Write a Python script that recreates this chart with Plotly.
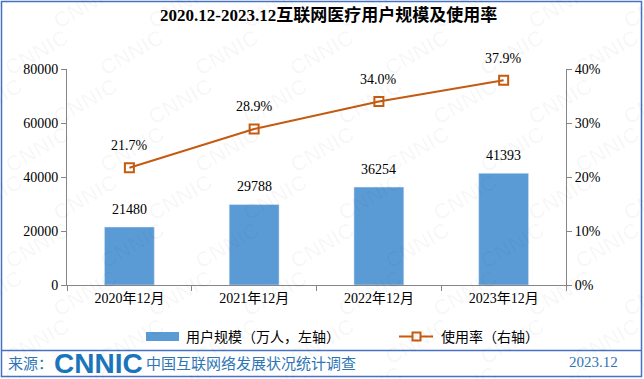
import plotly.graph_objects as go

categories = ["2020年12月", "2021年12月", "2022年12月", "2023年12月"]
users = [21480, 29788, 36254, 41393]
rates = [0.217, 0.289, 0.340, 0.379]
rate_labels = ["21.7%", "28.9%", "34.0%", "37.9%"]
left_ticks = [0, 20000, 40000, 60000, 80000]
right_ticks = [0, 0.1, 0.2, 0.3, 0.4]
right_tick_text = ["0%", "10%", "20%", "30%", "40%"]

BAR = "#5B9BD5"
LINE = "#C55A11"
BORDER = "#4472C4"
FOOT = "#2E75B6"
SERIF = "Times New Roman, Liberation Serif, Noto Sans CJK SC"
SANS = "Noto Sans CJK SC, Noto Sans"

fig = go.Figure()
fig.add_trace(go.Bar(x=categories, y=users, marker_color=BAR, name="用户规模（万人，左轴）",
                     showlegend=False, yaxis="y"))
fig.add_trace(go.Scatter(x=categories, y=rates, mode="lines+markers", name="使用率（右轴）",
                         line=dict(color=LINE, width=2),
                         marker=dict(symbol="square-open", size=9, color=LINE, line=dict(width=2)),
                         showlegend=False, yaxis="y2"))

def px(xp, yp):
    return (xp - 67) / 499, (285 - yp) / 216

def note(xp, yp, text, font, xanchor="center"):
    x, y = px(xp, yp)
    return dict(xref="paper", yref="paper", x=x, y=y, xanchor=xanchor, yanchor="middle",
                text=text, showarrow=False, font=font)

ann = []
# watermark
for r in range(9):
    for c in range(9):
        x = c * 95 + (47 if r % 2 else 0) - 10
        y = r * 48 + 5
        a = note(x, y, "<b>CNNIC</b>", dict(family="Liberation Sans", size=22, color="rgba(0,0,0,0.028)"))
        a["textangle"] = -30
        ann.append(a)
for c, v in zip(categories, users):
    ann.append(dict(x=c, y=v, yref="y", text=str(v), showarrow=False, yshift=18,
                    font=dict(family=SERIF, size=14, color="#000")))
for c, v, t in zip(categories, rates, rate_labels):
    ann.append(dict(x=c, y=v, yref="y2", text=t, showarrow=False, yshift=22,
                    font=dict(family=SERIF, size=14, color="#000")))

ann.append(note(328, 15, "<b>2020.12-2023.12互联网医疗用户规模及使用率</b>",
                dict(family=SERIF, size=17, color="#000")))
ann.append(note(184, 336, "用户规模（万人，左轴）", dict(family=SANS, size=14, color="#000"), "left"))
ann.append(note(439, 336, "使用率（右轴）", dict(family=SANS, size=14, color="#000"), "left"))
ann.append(note(6, 362, "来源：", dict(family=SANS, size=15, color=FOOT), "left"))
ann.append(note(98, 363, "<b>CNNIC</b>", dict(family="Liberation Sans", size=28, color="#1B75BB")))
ann.append(note(144, 362, "中国互联网络发展状况统计调查", dict(family=SANS, size=15, color=FOOT), "left"))
ann.append(note(593, 362, "2023.12", dict(family=SERIF, size=15, color=FOOT)))

shapes = []
def rect_px(x0, y0, x1, y1, **kw):
    a0, b0 = px(x0, y0)
    a1, b1 = px(x1, y1)
    return dict(type="rect", xref="paper", yref="paper", x0=a0, y0=b0, x1=a1, y1=b1, **kw)
def line_px(x0, y0, x1, y1, **kw):
    a0, b0 = px(x0, y0)
    a1, b1 = px(x1, y1)
    return dict(type="line", xref="paper", yref="paper", x0=a0, y0=b0, x1=a1, y1=b1, **kw)

shapes.append(rect_px(1.5, 1.5, 641.5, 376.5, line=dict(color=BORDER, width=1.5), layer="above"))
shapes.append(line_px(1.5, 350.5, 641.5, 350.5, line=dict(color=BORDER, width=1.5)))
shapes.append(rect_px(146, 332, 179, 341, fillcolor=BAR, line=dict(width=0)))
shapes.append(line_px(399, 336.5, 433, 336.5, line=dict(color=LINE, width=2)))
shapes.append(rect_px(412.5, 332.5, 420.5, 340.5, fillcolor="white", line=dict(color=LINE, width=2)))

fig.update_layout(
    width=644, height=379,
    margin=dict(l=67, r=78, t=69, b=94),
    paper_bgcolor="white", plot_bgcolor="rgba(0,0,0,0)",
    bargap=0.6,
    xaxis=dict(showline=True, linecolor="#868686", linewidth=1, ticks="outside", tickson="boundaries",
               ticklen=5, tickcolor="#868686", tickfont=dict(family=SERIF, size=14, color="#000"),
               showgrid=False),
    yaxis=dict(range=[0, 80000], tickvals=left_ticks, ticktext=[str(v) for v in left_ticks],
               showline=True, linecolor="#868686", ticks="outside", ticklen=5, tickcolor="#868686",
               tickfont=dict(family=SERIF, size=14, color="#000"), showgrid=False, zeroline=False),
    yaxis2=dict(range=[0, 0.4], tickvals=right_ticks, ticktext=right_tick_text,
                overlaying="y", side="right", showline=True, linecolor="#868686", ticks="outside",
                ticklen=5, tickcolor="#868686", tickfont=dict(family=SERIF, size=14, color="#000"),
                showgrid=False, zeroline=False),
    annotations=ann, shapes=shapes,
)
fig.write_html("out.html", config={"displayModeBar": False},
               post_script="document.body.style.margin='0';document.body.style.overflow='hidden';")
